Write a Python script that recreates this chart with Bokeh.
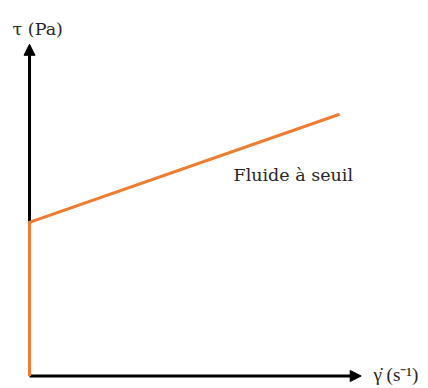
from bokeh.plotting import figure
from bokeh.models import Range1d, Arrow, NormalHead, ColumnDataSource
from bokeh.core.properties import value
from bokeh.embed import file_html
from bokeh.resources import INLINE

# ---- data (diagram units) ----
x_axis_max = 10.0
y_axis_max = 10.0
yield_stress = 4.63
curve_x = [0.0, 0.0, 9.35]
curve_y = [0.0, yield_stress, 7.89]

label_text = ["\u03c4 (Pa)", "Fluide \u00e0 seuil"]
label_x = [-0.51, 6.15]
label_y = [10.45, 6.05]

xlabel_text = ["\u03b3\u0307 (s\u207b\u00b9)"]
xlabel_x = [10.37]
xlabel_y = [0.06]

ORANGE = "#ED7D31"

p = figure(width=428, height=388, output_backend="svg", toolbar_location=None,
           x_range=Range1d(-0.875, 12.03), y_range=Range1d(-0.377, 11.32),
           min_border=0, outline_line_color=None)
p.axis.visible = False
p.grid.visible = False
p.background_fill_color = "white"
p.border_fill_color = "white"

# axes arrows
p.add_layout(Arrow(end=NormalHead(size=11, fill_color="black", line_color="black", line_width=1),
                   x_start=0, y_start=0, x_end=0, y_end=y_axis_max,
                   line_width=3, line_color="black", level="underlay"))
p.add_layout(Arrow(end=NormalHead(size=11, fill_color="black", line_color="black", line_width=1),
                   x_start=0, y_start=0, x_end=x_axis_max, y_end=0,
                   line_width=3, line_color="black", level="underlay"))

# flow curve
p.line(curve_x, curve_y, line_color=ORANGE, line_width=3, line_join="miter")

src = ColumnDataSource(dict(x=label_x, y=label_y, t=label_text))
p.text(x="x", y="y", text="t", source=src, text_font=value("DejaVu Serif"),
       text_font_size="17.5px", text_color="#262626",
       text_align="left", text_baseline="alphabetic")

src2 = ColumnDataSource(dict(x=xlabel_x, y=xlabel_y, t=xlabel_text))
p.text(x="x", y="y", text="t", source=src2, text_font=value("Liberation Serif"),
       text_font_size="19px", text_color="#262626",
       text_align="left", text_baseline="alphabetic")

open("out.html", "w").write(file_html(p, INLINE))
